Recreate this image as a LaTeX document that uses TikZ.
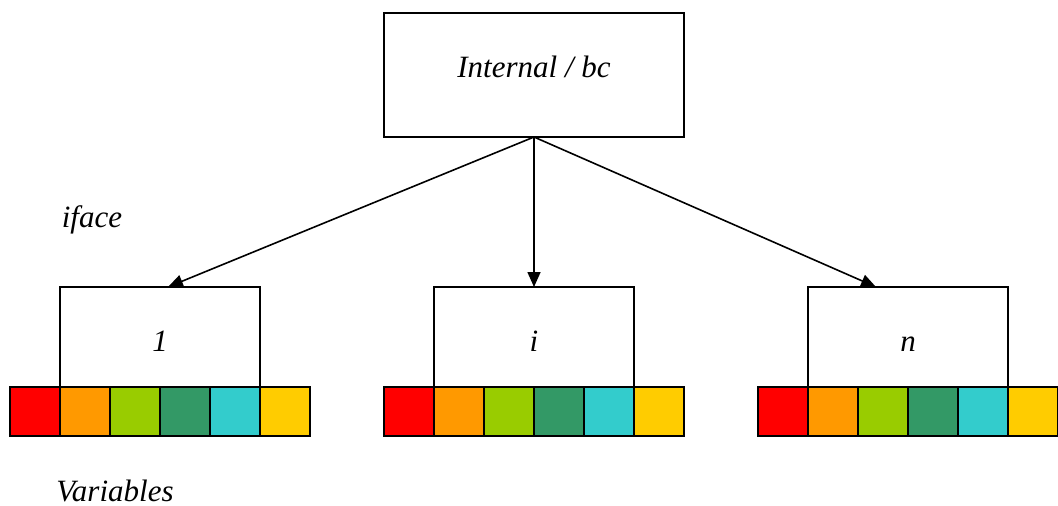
\documentclass[tikz,border=0pt]{standalone}
\usepackage{fontspec}
\setmainfont{Liberation Serif}
\usetikzlibrary{arrows.meta,calc}

\definecolor{cRed}{HTML}{FF0000}
\definecolor{cOrange}{HTML}{FF9900}
\definecolor{cLime}{HTML}{99CC00}
\definecolor{cSea}{HTML}{339966}
\definecolor{cTurq}{HTML}{33CCCC}
\definecolor{cGold}{HTML}{FFCC00}

\tikzset{
  frame/.style={draw=black, line width=1.8pt, fill=white, inner sep=0pt, outer sep=0pt},
  topbox/.style={frame, minimum width=300pt, minimum height=124pt},
  ifbox/.style={frame, minimum width=200pt, minimum height=100pt},
  cell/.style={draw=black, line width=1.8pt, inner sep=0pt, outer sep=0pt,
    minimum width=50pt, minimum height=49pt},
  lbl/.style={font=\fontsize{31}{36}\selectfont\itshape, inner sep=0pt, anchor=base},
  link/.style={line width=1.6pt, -{Triangle[length=15pt,width=13pt]}}
}

\begin{document}
\begin{tikzpicture}[x=1pt, y=-1pt]
  \useasboundingbox (0,0) rectangle (1058,506);

  % top node
  \node[topbox] (top) at (534,75) {};
  \node[lbl] (toptxt) at (534,77) {Internal / bc};

  % interface boxes with their variable strips
  \foreach \name/\x/\txt in {b1/160/1, b2/534/i, b3/908/n} {
    \node[ifbox] (\name) at (\x,337) {};
    \node[lbl] (\name txt) at (\x,351) {\txt};
    \foreach \k/\col in {0/cRed,1/cOrange,2/cLime,3/cSea,4/cTurq,5/cGold} {
      \node[cell, fill=\col] (\name c\k) at ({\x-125+50*\k},411.5) {};
    }
  }

  % connectors
  \draw[link] (top.south) -- ($(b1.north)+(8,0)$);
  \draw[link] (top.south) -- (b2.north);
  \draw[link] (top.south) -- ($(b3.north)+(-32,0)$);

  % side labels
  \node[lbl] (iface) at (92,227) {iface};
  \node[lbl] (vars) at (115,501) {Variables};
\end{tikzpicture}
\end{document}
